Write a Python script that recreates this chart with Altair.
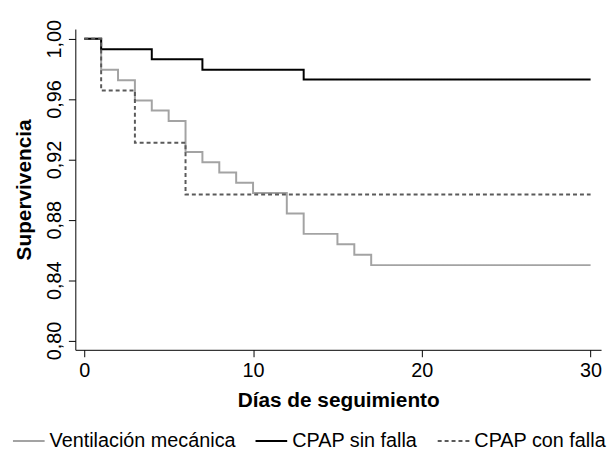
import altair as alt
import pandas as pd

series = ["Ventilación mecánica", "CPAP sin falla", "CPAP con falla"]

vm_days = [0, 1, 2, 3, 4, 5, 6, 7, 8, 9, 10, 12, 13, 15, 16, 17, 30]
vm_surv = [1.0, 0.9795, 0.9725, 0.959, 0.9524, 0.9455, 0.925, 0.9182, 0.9113,
           0.9045, 0.8978, 0.8842, 0.8707, 0.8638, 0.8569, 0.8500, 0.8500]

sf_days = [0, 1, 4, 7, 13, 30]
sf_surv = [1.0, 0.993, 0.9864, 0.9795, 0.9729, 0.9729]

cf_days = [0, 1, 3, 6, 30]
cf_surv = [1.0, 0.9657, 0.9311, 0.8968, 0.8968]

y_ticks = [0.80, 0.84, 0.88, 0.92, 0.96, 1.00]
x_ticks = [0, 10, 20, 30]

rows = []
for name, days, surv in [(series[0], vm_days, vm_surv),
                         (series[1], sf_days, sf_surv),
                         (series[2], cf_days, cf_surv)]:
    for i, (d, s) in enumerate(zip(days, surv)):
        rows.append({"serie": name, "dia": d, "surv": s, "orden": series.index(name), "i": i})
df = pd.DataFrame(rows)

FONT = "Liberation Sans"

chart = alt.Chart(df).mark_line(interpolate="step-after").encode(
    x=alt.X("dia:Q",
            scale=alt.Scale(domain=[-0.53, 30.62], nice=False, zero=False),
            axis=alt.Axis(values=x_ticks, title="Días de seguimiento", grid=False,
                          tickSize=7, labelPadding=4, labelFontSize=20, labelFont=FONT,
                          titleFont=FONT, titleFontSize=21, titleFontWeight="bold",
                          titleY=57, titleBaseline="alphabetic",
                          domainColor="#000000", tickColor="#000000", labelColor="#000000",
                          titleColor="#000000")),
    y=alt.Y("surv:Q",
            scale=alt.Scale(domain=[0.7939, 1.0064], nice=False, zero=False),
            axis=alt.Axis(values=y_ticks, title="Supervivencia", grid=False,
                          labelExpr="replace(format(datum.value, '.2f'), '.', ',')",
                          labelAngle=270, labelAlign="center", labelBaseline="alphabetic",
                          tickSize=7, labelPadding=8, labelFontSize=20, labelFont=FONT,
                          titleFont=FONT, titleFontSize=21, titleFontWeight="bold",
                          titleAngle=270, titleX=-45, titleY=162, titleAlign="center",
                          titleBaseline="alphabetic",
                          domainColor="#000000", tickColor="#000000", labelColor="#000000",
                          titleColor="#000000")),
    color=alt.Color("serie:N",
                    scale=alt.Scale(domain=series, range=["#a3a3a3", "#000000", "#5a5a5a"]),
                    legend=alt.Legend(title=None)),
    strokeDash=alt.StrokeDash("serie:N",
                              scale=alt.Scale(domain=series, range=[[1, 0], [1, 0], [4, 3]]),
                              legend=alt.Legend(title=None)),
    strokeWidth=alt.StrokeWidth("serie:N",
                                scale=alt.Scale(domain=series, range=[2, 2, 1.6]),
                                legend=alt.Legend(title=None)),
    order=alt.Order("i:Q"),
    detail="serie:N",
).properties(
    width=531,
    height=324,
    padding={"left": 68, "top": 19, "right": 6, "bottom": 104},
    autosize=alt.AutoSizeParams(type="none"),
).configure_view(
    stroke=None
).configure_legend(
    orient="none",
    legendX=-64,
    legendY=399,
    direction="horizontal",
    symbolType="stroke",
    symbolSize=1024,
    labelFont=FONT,
    labelFontSize=20,
    labelColor="#000000",
    labelOffset=4,
    columnPadding=16,
    padding=0,
    labelLimit=400,
)

chart.save("out.html", embed_options={"renderer": "svg", "actions": False})
